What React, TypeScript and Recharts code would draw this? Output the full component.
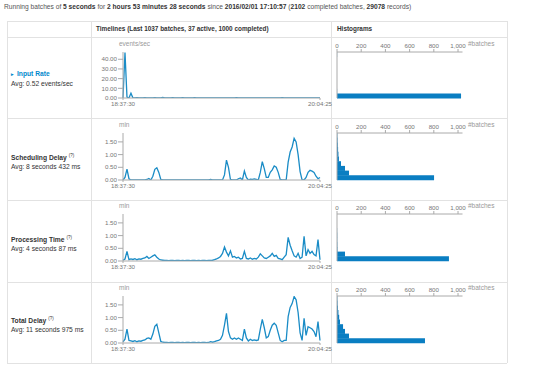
import React from 'react'
import { LineChart, Line, XAxis, YAxis, BarChart, Bar } from 'recharts'

// x tick labels (first and last batch time)
const TIME_TICKS = ['18:37:30', '20:04:25']
const RATE_TICKS = [0, 10, 20, 30, 40]
const MIN_TICKS = [0, 0.5, 1, 1.5]
const BATCH_TICKS = [0, 200, 400, 600, 800, 1000]

// timelines, one value per sampled batch
const INPUT_RATE = [
  0, 47, 1, 0, 5, 0, 0, 0.3, 0, 0,
  0, 0.4, 0, 0, 0, 0, 0.3, 0, 0, 0,
  0.5, 0, 0, 0, 0, 0.3, 0, 0, 0, 0,
  0.4, 0, 0, 0, 0, 0, 0.3, 0, 0, 0,
  0, 0, 0, 0, 0, 0, 0, 0, 0, 0,
  0, 0, 0, 0, 0, 0, 0, 0.3, 0, 0,
  0, 0, 0, 0, 0, 0, 0, 0, 0, 0,
  0, 0, 0, 0, 0, 0, 0, 0, 0, 0,
  0.3, 0, 0, 0, 0, 0, 0, 0, 0, 0,
  0, 0, 0, 0, 0, 0, 0, 0, 0, 0,
]
const SCHED_DELAY = [
  0, 0.1, 0.43, 0.05, 0, 0, 0, 0, 0, 0,
  0, 0, 0.02, 0.06, 0, 0.15, 0.42, 0.48, 0.3, 0.02,
  0, 0, 0, 0, 0, 0, 0, 0, 0, 0,
  0, 0, 0, 0, 0, 0, 0, 0, 0, 0,
  0, 0, 0, 0, 0.02, 0, 0, 0, 0, 0,
  0, 0.2, 0.78, 0.5, 0.02, 0, 0, 0, 0.05, 0.08,
  0, 0.35, 0.1, 0, 0.03, 0.02, 0.04, 0.02, 0, 0.3,
  0.72, 0.45, 0.1, 0.1, 0.3, 0.4, 0.55, 0.5, 0.3, 0.02,
  0, 0, 0, 0.7, 1.1, 1.3, 1.64, 1.5, 1.0, 0.33,
  0, 0, 0.1, 0.3, 0.38, 0.35, 0.3, 0.15, 0.05, 0.1,
]
const PROC_TIME = [
  0.03, 0.08, 0.38, 0.05, 0.08, 0.06, 0.09, 0.05, 0.08, 0.07,
  0.1, 0.12, 0.18, 0.1, 0.15, 0.2, 0.24, 0.15, 0.08, 0.04,
  0.03, 0.02, 0.02, 0.01, 0.02, 0.02, 0.01, 0.02, 0.02, 0.01,
  0.02, 0.01, 0.02, 0.02, 0.01, 0.02, 0.02, 0.01, 0.02, 0.01,
  0.02, 0.02, 0.01, 0.02, 0.02, 0.03, 0.05, 0.08, 0.12, 0.18,
  0.3, 0.55, 0.35, 0.2, 0.4, 0.15, 0.18, 0.12, 0.15, 0.08,
  0.1, 0.38, 0.1, 0.08, 0.12, 0.07, 0.1, 0.08, 0.15, 0.28,
  0.2, 0.12, 0.1, 0.15, 0.2, 0.3, 0.18, 0.22, 0.1, 0.08,
  0.05, 0.15, 0.25, 0.93, 0.62, 0.4, 0.2, 0.15, 0.3, 0.1,
  0.15, 0.97, 0.2, 0.45, 0.3, 0.38, 0.25, 0.2, 0.84, 0.05,
]
const TOTAL_DELAY = [
  0.05, 0.15, 0.55, 0.1, 0.08, 0.06, 0.09, 0.05, 0.08, 0.07,
  0.1, 0.12, 0.18, 0.2, 0.15, 0.35, 0.66, 0.74, 0.4, 0.06,
  0.03, 0.02, 0.02, 0.01, 0.02, 0.02, 0.01, 0.02, 0.02, 0.01,
  0.02, 0.01, 0.02, 0.02, 0.01, 0.02, 0.02, 0.01, 0.02, 0.01,
  0.02, 0.02, 0.01, 0.02, 0.05, 0.03, 0.05, 0.08, 0.1, 0.15,
  0.3, 0.7, 1.17, 0.45, 0.2, 0.15, 0.2, 0.15, 0.2, 0.15,
  0.1, 0.55, 0.2, 0.08, 0.15, 0.1, 0.12, 0.1, 0.12, 0.55,
  0.93, 0.6, 0.2, 0.25, 0.5, 0.7, 0.78, 0.7, 0.4, 0.1,
  0.05, 0.1, 0.1, 1.04, 1.4, 1.55, 1.83, 1.7, 1.2, 0.4,
  0.1, 0.97, 0.3, 0.64, 0.6, 0.55, 0.45, 0.25, 0.84, 0.1,
]

// histogram counts per bin, lowest bin first
const INPUT_HIST = [1025, 1, 0, 0, 0, 0, 0, 0, 0, 1]
const SCHED_HIST = [802, 99, 66, 33, 16, 12, 9, 7, 5, 3]
const PROC_HIST = [925, 66, 4, 3, 2, 2, 1, 0, 0, 0]
const TOTAL_HIST = [727, 99, 66, 50, 25, 18, 12, 8, 5, 3]

const timeline = INPUT_RATE.map((v, i) => ({
  i, input: v, sched: SCHED_DELAY[i], proc: PROC_TIME[i], total: TOTAL_DELAY[i],
}))
const LAST = timeline.length - 1

const FONT = '"Liberation Sans", Arial, sans-serif'
const LINE = '#1a8cc6'
const BAR = '#0a7ec2'
const AXIS = '#aaa'
const TICK = { fontSize: 6.2, fill: '#777', fontFamily: FONT }
const BORDER = '#e2e2e2'

function Timeline({ plotTop, plotH, dataKey, domain, ticks, unit }: any) {
  return (
    <>
      <div style={{ position: 'absolute', left: 119, top: plotTop - 12, fontSize: 6.5, lineHeight: '8px', color: '#999' }}>{unit}</div>
      <div style={{ position: 'absolute', left: 88, top: plotTop - 4 }}>
        <LineChart width={260} height={plotH + 18} data={timeline} margin={{ top: 4, right: 28, bottom: 1, left: 0 }}>
          <XAxis
            dataKey="i" type="number" domain={[0, LAST]} ticks={[0, LAST]} interval={0}
            tickFormatter={(v) => (v === 0 ? TIME_TICKS[0] : TIME_TICKS[1])}
            height={13} tickSize={2} tickMargin={2} stroke={AXIS} tick={TICK}
          />
          <YAxis
            type="number" domain={domain} ticks={ticks} interval={0} allowDataOverflow
            tickFormatter={(v) => v.toFixed(2)}
            width={35} tickSize={5} tickMargin={1} stroke={AXIS} tick={TICK}
          />
          <Line type="linear" dataKey={dataKey} stroke={LINE} strokeWidth={1.3} dot={false} isAnimationActive={false} />
        </LineChart>
      </div>
    </>
  )
}

function Histogram({ plotTop, plotH, counts }: any) {
  const data = counts.map((c: number, b: number) => ({ bin: b, count: c })).reverse()
  return (
    <>
      <div style={{ position: 'absolute', left: 468, top: plotTop - 12, fontSize: 6.5, lineHeight: '8px', color: '#999' }}>#batches</div>
      <div style={{ position: 'absolute', left: 330, top: plotTop - 14 }}>
        <BarChart layout="vertical" width={140} height={plotH + 16} data={data} barCategoryGap={0}
          margin={{ top: 2, right: 7.5, bottom: 2, left: 0 }}>
          <XAxis
            type="number" orientation="top" domain={[0, 1037]} ticks={BATCH_TICKS} interval={0}
            tickFormatter={(v) => v.toLocaleString('en-US')}
            height={12} tickSize={3} tickMargin={1} stroke={AXIS} tick={TICK}
          />
          <YAxis type="category" dataKey="bin" width={7} tick={false} tickLine={false} stroke={AXIS} />
          <Bar dataKey="count" fill={BAR} isAnimationActive={false} />
        </BarChart>
      </div>
    </>
  )
}

function RowLabel({ top, title, avg, link }: any) {
  return (
    <div style={{ position: 'absolute', left: 11, top, fontSize: 6.7, lineHeight: '9px', color: '#333' }}>
      <div style={{ fontWeight: 'bold', color: link ? '#0088cc' : '#333' }}>
        {link && <span style={{ fontSize: 5, marginRight: 3 }}>▸</span>}
        {title}
        {!link && <sup style={{ fontSize: 4.5, fontWeight: 'normal', marginLeft: 2 }}>(?)</sup>}
      </div>
      <div>{avg}</div>
    </div>
  )
}

const hline = (y: number) => (
  <div style={{ position: 'absolute', left: 7, top: y, width: 500, height: 1, background: BORDER }} />
)
const vline = (x: number) => (
  <div style={{ position: 'absolute', left: x, top: 21, width: 1, height: 342, background: BORDER }} />
)

export default function App() {
  return (
    <div style={{ position: 'absolute', left: 0, top: 0, width: 540, height: 375, background: '#fff', fontFamily: FONT, overflow: 'hidden' }}>
      <div style={{ position: 'absolute', left: 4, top: 3, fontSize: 6.65, lineHeight: '8px', color: '#555', whiteSpace: 'nowrap' }}>
        Running batches of <b style={{ color: '#333' }}>5 seconds</b> for <b style={{ color: '#333' }}>2 hours 53 minutes 28 seconds</b> since{' '}
        <b style={{ color: '#333' }}>2016/02/01 17:10:57</b> (<b style={{ color: '#333' }}>2102</b> completed batches, <b style={{ color: '#333' }}>29078</b> records)
      </div>

      {hline(21)}{hline(37)}{hline(118)}{hline(200)}{hline(282)}{hline(363)}
      {vline(7)}{vline(91)}{vline(331)}{vline(507)}

      <div style={{ position: 'absolute', left: 96, top: 25, fontSize: 6.4, lineHeight: '8px', fontWeight: 'bold', color: '#333' }}>
        Timelines (Last 1037 batches, 37 active, 1000 completed)
      </div>
      <div style={{ position: 'absolute', left: 337, top: 25, fontSize: 6.4, lineHeight: '8px', fontWeight: 'bold', color: '#333' }}>
        Histograms
      </div>

      <RowLabel top={69} title="Input Rate" avg="Avg: 0.52 events/sec" link />
      <RowLabel top={151} title="Scheduling Delay" avg="Avg: 8 seconds 432 ms" />
      <RowLabel top={233} title="Processing Time" avg="Avg: 4 seconds 87 ms" />
      <RowLabel top={314} title="Total Delay" avg="Avg: 11 seconds 975 ms" />

      <Timeline plotTop={52} plotH={46} dataKey="input" domain={[0, 47.5]} ticks={RATE_TICKS} unit="events/sec" />
      <Timeline plotTop={133} plotH={47} dataKey="sched" domain={[0, 1.85]} ticks={MIN_TICKS} unit="min" />
      <Timeline plotTop={214} plotH={47} dataKey="proc" domain={[0, 1.85]} ticks={MIN_TICKS} unit="min" />
      <Timeline plotTop={296} plotH={47} dataKey="total" domain={[0, 1.85]} ticks={MIN_TICKS} unit="min" />

      <Histogram plotTop={52} plotH={46} counts={INPUT_HIST} />
      <Histogram plotTop={133} plotH={47} counts={SCHED_HIST} />
      <Histogram plotTop={214} plotH={47} counts={PROC_HIST} />
      <Histogram plotTop={296} plotH={47} counts={TOTAL_HIST} />
    </div>
  )
}
